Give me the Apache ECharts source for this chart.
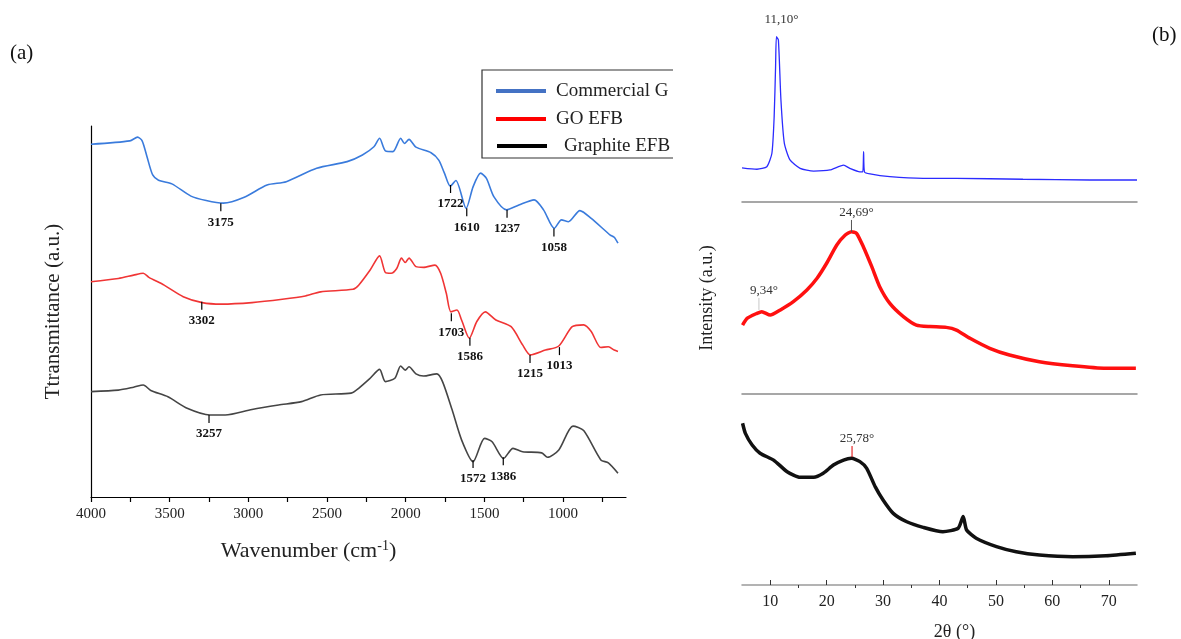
<!DOCTYPE html>
<html>
<head>
<meta charset="utf-8">
<script src="https://cdn.jsdelivr.net/npm/echarts@6/dist/echarts.min.js"></script>
<style>
html,body{margin:0;padding:0;background:#fff;}
#chart{width:1181px;height:639px;}
</style>
</head>
<body>
<div id="chart"></div>
<script>
// ---------- FTIR (panel a): [wavenumber cm-1, transmittance a.u.] ----------
const ftirCommercialGO = [
  [4000,95.1],[3753,96.0],[3704,97.0],[3675,96.0],[3644,91.7],[3608,86.8],[3571,85.4],[3486,84.4],
  [3365,81.1],[3268,79.9],[3159,79.2],[3026,80.8],[2881,84.1],[2759,85.0],[2566,88.6],[2372,90.4],
  [2275,92.2],[2202,94.4],[2166,96.7],[2129,93.3],[2081,93.1],[2032,96.7],[2008,95.3],[1979,96.4],
  [1935,94.3],[1839,92.8],[1790,90.8],[1754,87.3],[1717,83.8],[1681,85.3],[1616,77.8],[1572,83.6],
  [1524,87.3],[1487,85.9],[1439,80.9],[1359,77.4],[1281,78.7],[1184,80.1],[1124,77.4],[1056,72.4],
  [1010,74.7],[966,74.2],[893,77.2],[821,75.1],[700,70.6],[675,70.0],[651,68.4]
];
const ftirGOEFB = [
  [4000,58.0],[3826,58.9],[3729,59.8],[3668,60.3],[3632,59.2],[3535,57.1],[3414,54.0],[3293,52.4],
  [3171,52.0],[2977,52.4],[2784,53.3],[2638,54.2],[2541,55.3],[2335,56.0],[2299,57.1],[2226,61.2],
  [2166,65.0],[2129,60.5],[2093,60.3],[2057,61.6],[2027,64.4],[2003,63.2],[1979,64.4],[1935,62.1],
  [1887,61.9],[1814,62.5],[1778,60.3],[1742,54.9],[1713,49.9],[1674,50.4],[1645,47.7],[1596,42.8],
  [1548,47.3],[1494,49.9],[1427,47.7],[1330,45.9],[1257,41.0],[1208,38.3],[1112,39.6],[1027,40.7],
  [942,45.9],[869,46.4],[821,44.6],[760,40.3],[712,40.5],[675,39.6],[651,39.2]
];
const ftirGraphiteEFB = [
  [4000,28.4],[3826,28.8],[3729,29.6],[3668,30.2],[3620,28.7],[3511,27.0],[3389,23.9],[3244,22.1],
  [3147,22.1],[2977,23.6],[2808,24.8],[2662,25.7],[2541,27.5],[2347,28.0],[2299,29.3],[2226,32.0],
  [2166,34.4],[2129,31.1],[2069,32.0],[2032,35.3],[2003,34.2],[1979,35.1],[1935,33.2],[1887,32.6],
  [1802,33.2],[1766,31.1],[1705,23.5],[1645,15.4],[1572,9.5],[1499,15.8],[1451,14.9],[1378,10.4],
  [1318,13.1],[1257,12.2],[1136,11.9],[1099,10.7],[1027,12.7],[937,19.1],[869,17.9],[760,10.0],
  [712,9.2],[651,6.4]
];
// peak marks: [position cm-1, transmittance at mark top, label]
const ftirPeaksCommercialGO = [[3175,79.2,'3175'],[1715,84.1,'1722'],[1612,77.8,'1610'],[1356,77.4,'1237'],[1058,72.4,'1058']];
const ftirPeaksGOEFB = [[3296,52.6,'3302'],[1710,49.5,'1703'],[1592,42.9,'1586'],[1210,38.3,'1215'],[1023,40.4,'1013']];
const ftirPeaksGraphiteEFB = [[3250,22.1,'3257'],[1572,10.0,'1572'],[1380,10.7,'1386']];
const ftirTickValues = [4000,3750,3500,3250,3000,2750,2500,2250,2000,1750,1500,1250,1000,750];
const ftirLabelValues = [4000,3500,3000,2500,2000,1500,1000];

// ---------- XRD (panel b): [2θ °, intensity a.u.] ----------
const xrdCommercialGO = [
  [5.0,18.8],[7.65,18.0],[9.4,19.4],[10.3,26.8],[10.7,46.9],[10.95,74.3],[11.1,90.8],[11.45,89.0],
  [11.9,56.0],[12.5,32.3],[13.5,23.1],[15.3,18.5],[17.7,17.0],[20.6,17.6],[23.0,20.3],[24.1,18.5],
  [25.9,16.6],[26.4,16.6],[26.55,27.6],[26.7,16.6],[27.7,15.4],[31.2,13.9],[37.1,13.0],[43.0,13.0],
  [54.8,12.5],[66.6,12.1],[75.0,12.1]
];
const xrdGOEFB = [
  [5.1,35.9],[5.9,39.4],[7.65,42.0],[8.5,42.9],[10.0,41.1],[11.8,43.8],[14.1,48.1],[16.5,54.2],
  [18.3,60.3],[20.0,68.1],[21.8,77.6],[23.3,82.8],[24.4,84.5],[25.3,83.7],[26.5,76.7],[28.0,66.3],
  [29.4,55.9],[31.2,47.2],[33.6,40.3],[35.9,35.9],[38.3,35.1],[41.2,34.7],[43.0,33.3],[45.4,29.0],
  [48.9,23.8],[52.4,20.3],[57.7,16.8],[63.6,14.7],[69.5,13.4],[74.8,13.4]
];
const xrdGraphiteEFB = [
  [5.1,84.7],[5.6,79.4],[6.8,73.3],[8.2,69.0],[10.6,65.4],[13.0,59.3],[15.3,56.4],[17.7,56.4],
  [19.4,58.5],[21.2,62.8],[23.0,65.4],[24.4,66.3],[25.9,64.6],[27.1,61.1],[28.6,51.5],[30.0,44.5],
  [31.8,37.5],[34.2,33.1],[37.1,30.2],[40.6,27.9],[43.3,29.7],[44.2,35.8],[44.8,28.8],[46.5,24.5],
  [50.1,20.1],[53.6,17.4],[57.7,15.7],[63.6,14.8],[69.5,15.3],[74.8,16.6]
];
// peak labels: [2θ position, intensity at mark, label, mark length]
const xrdPeaksCommercialGO = [[11.1,90.8,'11,10°',0]];
const xrdPeaksGOEFB = [[24.4,84.4,'24,69°',12],[8.0,43.8,'9,34°',12]];
const xrdPeaksGraphiteEFB = [[24.5,67.0,'25,78°',11]];
const xrdMajorTicks = [10,20,30,40,50,60,70];
const xrdMinorTicks = [15,25,35,45,55,65];

// ---------- chart ----------
const SERIF = "'Times New Roman','Liberation Serif','DejaVu Serif',serif";
const chart = echarts.init(document.getElementById('chart'));

function ftirPeakSeries(peaks, name) {
  return {
    type: 'custom', name: name, xAxisIndex: 0, yAxisIndex: 0, z: 5,
    data: peaks.map(p => [p[0], p[1]]),
    encode: {x: 0, y: 1},
    renderItem: function (params, api) {
      const pt = api.coord([api.value(0), api.value(1)]);
      return {type: 'group', children: [
        {type: 'line', shape: {x1: pt[0], y1: pt[1], x2: pt[0], y2: pt[1] + 8},
         style: {stroke: '#000', lineWidth: 1.2}},
        {type: 'text', x: pt[0], y: pt[1] + 19,
         style: {text: peaks[params.dataIndex][2], align: 'center', verticalAlign: 'middle',
                 fontFamily: SERIF, fontSize: 13, fontWeight: 'bold', fill: '#111'}}
      ]};
    }
  };
}
function xrdPeakSeries(peaks, axisIdx, tickColor) {
  return {
    type: 'custom', xAxisIndex: axisIdx, yAxisIndex: axisIdx, z: 5,
    data: peaks.map(p => [p[0], p[1]]),
    encode: {x: 0, y: 1},
    renderItem: function (params, api) {
      const pt = api.coord([api.value(0), api.value(1)]);
      const len = peaks[params.dataIndex][3];
      const ch = [];
      if (len > 0) ch.push({type: 'line', shape: {x1: pt[0], y1: pt[1], x2: pt[0], y2: pt[1] - len},
        style: {stroke: tickColor[params.dataIndex], lineWidth: 1}});
      ch.push({type: 'text', x: pt[0] + 5, y: pt[1] - len - 7 - (len === 0 ? 10 : 0),
        style: {text: peaks[params.dataIndex][2], align: 'center', verticalAlign: 'middle',
                fontFamily: SERIF, fontSize: 13, fill: '#333'}});
      return {type: 'group', children: ch};
    }
  };
}

const hiddenY = {type: 'value', show: false, min: 0, max: 100};
const sepAxis = (gi) => ({
  type: 'value', gridIndex: gi, min: 5, max: 75,
  axisLine: {show: true, lineStyle: {color: '#8a8a8a', width: 1.5}},
  axisTick: {show: false}, axisLabel: {show: false}, splitLine: {show: false}
});

const option = {
  backgroundColor: '#fff',
  animation: false,
  grid: [
    {left: 91, top: 126, width: 535, height: 371, containLabel: false, outerBoundsMode: 'none'},
    {left: 742, top: 20, width: 395, height: 182, containLabel: false, outerBoundsMode: 'none'},
    {left: 742, top: 202, width: 395, height: 192, containLabel: false, outerBoundsMode: 'none'},
    {left: 742, top: 394, width: 395, height: 191, containLabel: false, outerBoundsMode: 'none'}
  ],
  xAxis: [
    {type: 'value', gridIndex: 0, min: 600, max: 4000, inverse: true,
     name: 'Wavenumber (cm{sup|-1})', nameLocation: 'middle', nameGap: 42,
     nameTextStyle: {fontFamily: SERIF, fontSize: 22, color: '#222', padding: [0, 100, 0, 0],
       rich: {sup: {fontFamily: SERIF, fontSize: 14, color: '#222', verticalAlign: 'top', padding: [0, 0, 10, 0]}}},
     axisLine: {show: true, onZero: false, lineStyle: {color: '#000', width: 1.2}},
     axisTick: {show: true, inside: false, length: 5, customValues: ftirTickValues, lineStyle: {color: '#000', width: 1.2}},
     axisLabel: {show: true, customValues: ftirLabelValues, margin: 10, fontFamily: SERIF, fontSize: 15, color: '#222',
       formatter: v => String(v)},
     splitLine: {show: false}},
    sepAxis(1),
    sepAxis(2),
    {type: 'value', gridIndex: 3, min: 5, max: 75,
     name: '2θ (°)', nameLocation: 'middle', nameGap: 38,
     nameTextStyle: {fontFamily: SERIF, fontSize: 18, color: '#222', padding: [0, 0, 0, 30]},
     axisLine: {show: true, onZero: false, lineStyle: {color: '#9a9a9a', width: 1.5}},
     axisTick: {show: true, inside: true, length: 5, customValues: xrdMajorTicks, lineStyle: {color: '#333', width: 1}},
     axisLabel: {show: true, customValues: xrdMajorTicks, margin: 9, fontFamily: SERIF, fontSize: 16, color: '#222',
       formatter: v => String(v)},
     splitLine: {show: false}},
    {type: 'value', gridIndex: 3, min: 5, max: 75,
     axisLine: {show: false},
     axisTick: {show: true, inside: true, length: 3, customValues: xrdMinorTicks, lineStyle: {color: '#333', width: 1}},
     axisLabel: {show: false}, splitLine: {show: false}}
  ],
  yAxis: [
    {type: 'value', gridIndex: 0, min: 0, max: 100,
     name: 'Ttransmittance (a.u.)', nameLocation: 'middle', nameGap: 27,
     nameTextStyle: {fontFamily: SERIF, fontSize: 21, color: '#222'},
     axisLine: {show: true, onZero: false, lineStyle: {color: '#000', width: 1.2}},
     axisTick: {show: false}, axisLabel: {show: false}, splitLine: {show: false}},
    Object.assign({}, hiddenY, {gridIndex: 1}),
    {type: 'value', gridIndex: 2, min: 0, max: 100,
     name: 'Intensity (a.u.)', nameLocation: 'middle', nameGap: 26,
     nameTextStyle: {fontFamily: SERIF, fontSize: 18, color: '#222'},
     axisLine: {show: false}, axisTick: {show: false}, axisLabel: {show: false}, splitLine: {show: false}},
    Object.assign({}, hiddenY, {gridIndex: 3}),
    Object.assign({}, hiddenY, {gridIndex: 3})
  ],
  series: [
    {type: 'line', name: 'Commercial GO', xAxisIndex: 0, yAxisIndex: 0, data: ftirCommercialGO,
     symbol: 'none', smooth: 0.25, lineStyle: {color: '#3a7bdc', width: 1.6}},
    {type: 'line', name: 'GO EFB', xAxisIndex: 0, yAxisIndex: 0, data: ftirGOEFB,
     symbol: 'none', smooth: 0.25, lineStyle: {color: '#f03535', width: 1.6}},
    {type: 'line', name: 'Graphite EFB', xAxisIndex: 0, yAxisIndex: 0, data: ftirGraphiteEFB,
     symbol: 'none', smooth: 0.25, lineStyle: {color: '#454545', width: 1.6}},
    ftirPeakSeries(ftirPeaksCommercialGO, 'peaks-cgo'),
    ftirPeakSeries(ftirPeaksGOEFB, 'peaks-goefb'),
    ftirPeakSeries(ftirPeaksGraphiteEFB, 'peaks-gefb'),
    {type: 'line', name: 'XRD Commercial GO', xAxisIndex: 1, yAxisIndex: 1, data: xrdCommercialGO,
     symbol: 'none', smooth: 0.2, lineStyle: {color: '#2b2bff', width: 1.3}},
    {type: 'line', name: 'XRD GO EFB', xAxisIndex: 2, yAxisIndex: 2, data: xrdGOEFB,
     symbol: 'none', smooth: 0.2, lineStyle: {color: '#ff1010', width: 3.5}},
    {type: 'line', name: 'XRD Graphite EFB', xAxisIndex: 3, yAxisIndex: 3, data: xrdGraphiteEFB,
     symbol: 'none', smooth: 0.2, lineStyle: {color: '#111', width: 3.5}},
    xrdPeakSeries(xrdPeaksCommercialGO, 1, ['#333']),
    xrdPeakSeries(xrdPeaksGOEFB, 2, ['#555', '#c8c8c8']),
    xrdPeakSeries(xrdPeaksGraphiteEFB, 3, ['#e00000'])
  ],
  graphic: [
    {type: 'text', left: 10, top: 43, style: {text: '(a)', fontFamily: SERIF, fontSize: 21, fill: '#111'}},
    {type: 'text', left: 1152, top: 25, style: {text: '(b)', fontFamily: SERIF, fontSize: 21, fill: '#111'}},
    {type: 'polyline', shape: {points: [[673, 70], [482, 70], [482, 158], [673, 158]]},
     style: {stroke: '#333', lineWidth: 1.2, fill: null}},
    {type: 'rect', shape: {x: 496, y: 89, width: 50, height: 4}, style: {fill: '#4472c4'}},
    {type: 'rect', shape: {x: 496, y: 117, width: 50, height: 4}, style: {fill: '#ff0000'}},
    {type: 'rect', shape: {x: 497, y: 144, width: 50, height: 4}, style: {fill: '#000000'}},
    {type: 'text', x: 556, y: 91, style: {text: 'Commercial G', fontFamily: SERIF, fontSize: 19, fill: '#222', verticalAlign: 'middle'}},
    {type: 'text', x: 556, y: 119, style: {text: 'GO EFB', fontFamily: SERIF, fontSize: 19, fill: '#222', verticalAlign: 'middle'}},
    {type: 'text', x: 564, y: 146, style: {text: 'Graphite EFB', fontFamily: SERIF, fontSize: 19, fill: '#222', verticalAlign: 'middle'}}
  ]
};
chart.setOption(option);
</script>
</body>
</html>
